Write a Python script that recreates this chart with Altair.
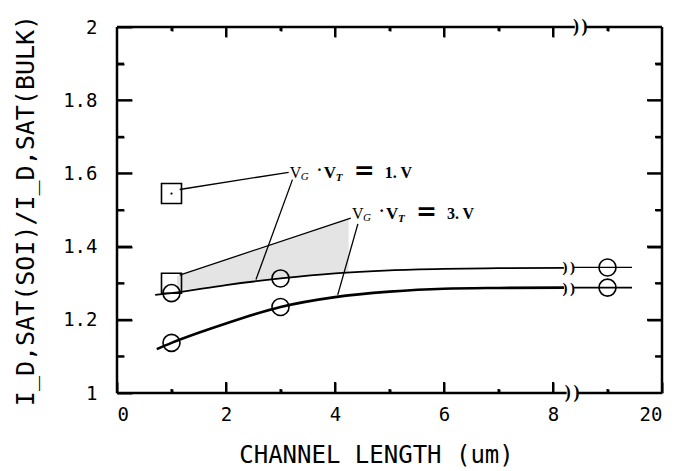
import altair as alt
import pandas as pd

# ---- data (plotted positions; x beyond the break is drawn at 9, the "20" tick sits at 10)
marker_x = [1, 3, 9]
ratio_1V = [1.273, 1.313, 1.343]
ratio_3V = [1.137, 1.235, 1.288]
square_x = [1, 1]
square_y = [1.545, 1.300]

curve1_x = [0.7, 1, 2, 3, 4, 5, 6, 7, 8.2]
curve1_y = [1.268, 1.273, 1.295, 1.313, 1.327, 1.335, 1.339, 1.341, 1.342]
curve3_x = [0.73, 1, 2, 3, 4, 5, 6, 7, 8.2]
curve3_y = [1.12, 1.137, 1.19, 1.235, 1.262, 1.277, 1.285, 1.287, 1.288]
tail_x = [8.38, 9.45]
tail1_y = [1.343, 1.343]
tail3_y = [1.288, 1.288]

x_major = [2, 4, 6, 8]
x_minor = [1, 3, 5, 7, 9]
x_labels = [0, 2, 4, 6, 8, 10]
y_major = [1.2, 1.4, 1.6, 1.8]
y_minor = [1.1, 1.3, 1.5, 1.7, 1.9]
y_labels = [1, 1.2, 1.4, 1.6, 1.8, 2]

label_anchor_x = [3.17, 4.31]
label_anchor_y = [1.587, 1.475]
label_values = ["1. V", "3. V"]

# leader lines
leader_x = [1.15, 3.22, 1.15, 4.42]
leader_x2 = [3.15, 2.55, 4.29, 4.05]
leader_y = [1.556, 1.583, 1.322, 1.462]
leader_y2 = [1.603, 1.31, 1.478, 1.268]

shade_x = [1.1, 4.25]
shade_top = [1.32, 1.478]
shade_bot = [1.281, 1.33]

W, H = 545, 366
X0, X1, Y0, Y1 = 0, 10, 1, 2
PX = W / (X1 - X0)   # pixels per x unit
PY = H / (Y1 - Y0)   # pixels per y unit
xs = alt.Scale(domain=[X0, X1], nice=False, zero=False)
ys = alt.Scale(domain=[Y0, Y1], nice=False, zero=False)
MONO = "DejaVu Sans Mono"
SERIF = "Liberation Serif"


def X(f):
    return alt.X(f, scale=xs, axis=None)


def Y(f):
    return alt.Y(f, scale=ys, axis=None)


# ---- axes: ticks drawn by the axes themselves, pulled inside the frame with a negative offset
def x_axis_layer(vals, orient, size, labels=False, **extra):
    ax = alt.Axis(orient=orient, values=vals, domain=False, grid=False, ticks=True,
                  tickSize=size, offset=-size, tickColor="black", tickWidth=2,
                  labels=labels, title="", **extra)
    return alt.Chart(pd.DataFrame({"v": vals})).mark_point(opacity=0).encode(
        x=alt.X("v:Q", scale=xs, axis=ax))


def y_axis_layer(vals, orient, size, labels=False, **extra):
    ax = alt.Axis(orient=orient, values=vals, domain=False, grid=False, ticks=True,
                  tickSize=size, offset=-size, tickColor="black", tickWidth=2,
                  labels=labels, title="", **extra)
    return alt.Chart(pd.DataFrame({"v": vals})).mark_point(opacity=0).encode(
        y=alt.Y("v:Q", scale=ys, axis=ax))


ax_bottom = alt.Chart(pd.DataFrame({"v": x_labels})).mark_point(opacity=0).encode(
    x=alt.X("v:Q", scale=xs, axis=alt.Axis(
        orient="bottom", values=x_labels, labelExpr="datum.value == 10 ? '20' : datum.label",
        domain=False, grid=False, ticks=True, tickSize=11, offset=-11,
        tickColor="black", tickWidth=2,
        labelFont=MONO, labelFontSize=19, labelColor="black", labelPadding=12,
        title="CHANNEL LENGTH (um)", titleFont=MONO, titleFontSize=24,
        titleFontWeight="normal", titleColor="black",
        titleX=259, titleY=73, titleAlign="center", titleBaseline="middle")))

ax_left = alt.Chart(pd.DataFrame({"v": y_labels})).mark_point(opacity=0).encode(
    y=alt.Y("v:Q", scale=ys, axis=alt.Axis(
        orient="left", values=y_labels, format=".1~f",
        domain=False, grid=False, ticks=True, tickSize=15, offset=-15,
        tickColor="black", tickWidth=2,
        labelFont=MONO, labelFontSize=19, labelColor="black", labelPadding=20,
        title="I_D,SAT(SOI)/I_D,SAT(BULK)", titleFont=MONO, titleFontSize=25,
        titleFontWeight="normal", titleColor="black", titleAngle=270,
        titleX=-107, titleY=183, titleAlign="center", titleBaseline="middle")))

axis_layers = [
    ax_bottom, ax_left,
    x_axis_layer(x_minor, "bottom", 4),
    x_axis_layer(x_major, "top", 10),
    x_axis_layer(x_minor, "top", 4),
    y_axis_layer(y_minor, "left", 7),
    y_axis_layer(y_major, "right", 15),
    y_axis_layer(y_minor, "right", 7),
]

# ---- frame with breaks
base = alt.Chart(pd.DataFrame({"x": [0]}))
frame_df = pd.DataFrame({
    "x": [0, 8.45, 0, 8.6],
    "x2": [8.25, 10, 8.4, 10],
    "pos": ["b", "b", "t", "t"],
})
frame_bottom = alt.Chart(frame_df[frame_df.pos == "b"]).mark_rule(strokeWidth=2.5, color="black").encode(
    x=X("x:Q"), x2="x2:Q", y=alt.value(H))
frame_top = alt.Chart(frame_df[frame_df.pos == "t"]).mark_rule(strokeWidth=2.5, color="black").encode(
    x=X("x:Q"), x2="x2:Q", y=alt.value(0))
frame_left = base.mark_rule(strokeWidth=2.5, color="black").encode(
    x=alt.value(0), y=alt.value(0), y2=alt.value(H))
frame_right = base.mark_rule(strokeWidth=2.5, color="black").encode(
    x=alt.value(W), y=alt.value(0), y2=alt.value(H))

brk_df = pd.DataFrame({"x": [8.27, 8.43], "t": [")", ")"]})
brk_bottom = alt.Chart(brk_df).mark_text(font=SERIF, fontSize=18, fontWeight="bold").encode(
    x=X("x:Q"), y=alt.value(H), text="t:N")
brk_top_df = pd.DataFrame({"x": [8.42, 8.58], "t": [")", ")"]})
brk_top = alt.Chart(brk_top_df).mark_text(font=SERIF, fontSize=18, fontWeight="bold").encode(
    x=X("x:Q"), y=alt.value(0), text="t:N")

# ---- backup inward ticks as two-point line paths (lengths in pixels -> data units)
tick_rows = []


def add_h(vals, at, length_px, tag):
    for i, v in enumerate(vals):
        k = f"{tag}{i}"
        tick_rows.append({"id": k, "x": at, "y": v})
        tick_rows.append({"id": k, "x": at + length_px / PX, "y": v})


def add_v(vals, at, length_px, tag):
    for i, v in enumerate(vals):
        k = f"{tag}{i}"
        tick_rows.append({"id": k, "x": v, "y": at})
        tick_rows.append({"id": k, "x": v, "y": at + length_px / PY})


add_h(y_major, X0, 15, "lM"); add_h(y_minor, X0, 7, "lm")
add_h(y_major, X1, -15, "rM"); add_h(y_minor, X1, -7, "rm")
add_v(x_major, Y0, 11, "bM"); add_v(x_minor, Y0, 4, "bm")
add_v(x_major, Y1, -10, "tM"); add_v(x_minor, Y1, -4, "tm")
tick_df = pd.DataFrame(tick_rows)
tick_lines = alt.Chart(tick_df).mark_line(color="black", strokeWidth=2).encode(
    x=X("x:Q"), y=Y("y:Q"), detail="id:N")

# ---- leader lines
leaders = alt.Chart(pd.DataFrame({"x": leader_x, "x2": leader_x2, "y": leader_y, "y2": leader_y2})).mark_rule(
    color="black", strokeWidth=1.3).encode(
    x=X("x:Q"), x2="x2:Q", y=Y("y:Q"), y2="y2:Q")

# ---- shading
shade = alt.Chart(pd.DataFrame({"x": shade_x, "top": shade_top, "bot": shade_bot})).mark_area(
    color="#e4e4e4", opacity=1).encode(
    x=X("x:Q"), y=Y("top:Q"), y2="bot:Q")

# ---- curves
c1 = alt.Chart(pd.DataFrame({"x": curve1_x, "y": curve1_y})).mark_line(
    color="black", strokeWidth=1.8, interpolate="monotone").encode(x=X("x:Q"), y=Y("y:Q"))
c3 = alt.Chart(pd.DataFrame({"x": curve3_x, "y": curve3_y})).mark_line(
    color="black", strokeWidth=2.6, interpolate="monotone").encode(x=X("x:Q"), y=Y("y:Q"))
t1 = alt.Chart(pd.DataFrame({"x": tail_x, "y": tail1_y})).mark_line(
    color="black", strokeWidth=1.2).encode(x=X("x:Q"), y=Y("y:Q"))
t3 = alt.Chart(pd.DataFrame({"x": tail_x, "y": tail3_y})).mark_line(
    color="black", strokeWidth=1.6).encode(x=X("x:Q"), y=Y("y:Q"))

cbrk_df = pd.DataFrame({
    "x": [8.22, 8.36, 8.22, 8.36],
    "y": [tail1_y[0], tail1_y[0], tail3_y[0], tail3_y[0]],
    "t": [")", ")", ")", ")"],
})
cbrk = alt.Chart(cbrk_df).mark_text(font=SERIF, fontSize=15, fontWeight="bold", baseline="middle").encode(
    x=X("x:Q"), y=Y("y:Q"), text="t:N")

# ---- markers
circ_df = pd.DataFrame({"x": marker_x * 2, "y": ratio_1V + ratio_3V})
circles = alt.Chart(circ_df).mark_point(
    shape="circle", size=290, filled=False, color="black", strokeWidth=1.6, opacity=1).encode(
    x=X("x:Q"), y=Y("y:Q"))
sq_df = pd.DataFrame({"x": square_x, "y": square_y})
squares = alt.Chart(sq_df).mark_point(
    shape="square", size=400, filled=False, color="black", strokeWidth=1.6, opacity=1).encode(
    x=X("x:Q"), y=Y("y:Q"))
dot = alt.Chart(sq_df.iloc[:1]).mark_point(
    shape="circle", size=5, filled=True, color="black", opacity=1).encode(
    x=X("x:Q"), y=Y("y:Q"))

# ---- labels "V_G - V_T = n. V"
lab_df = pd.DataFrame({"x": label_anchor_x, "y": label_anchor_y, "val": label_values})
pieces = [
    ("V", 0, 0, 16, "normal", "normal", SERIF),
    ("G", 11, 2, 11, "normal", "italic", SERIF),
    ("·", 27, -3, 16, "bold", "normal", SERIF),
    ("V", 34, 0, 17, "bold", "normal", SERIF),
    ("T", 46, 3, 11, "bold", "italic", SERIF),
    ("=", 64, 1, 25, "bold", "normal", "DejaVu Sans"),
]
label_layers = []
for txt, dx, dy, fs, fw, fst, fnt in pieces:
    label_layers.append(alt.Chart(lab_df).mark_text(
        text=txt, dx=dx, dy=dy, align="left", baseline="alphabetic",
        font=fnt, fontSize=fs, fontWeight=fw, fontStyle=fst, color="black").encode(
        x=X("x:Q"), y=Y("y:Q")))
label_layers.append(alt.Chart(lab_df).mark_text(
    dx=95, align="left", baseline="alphabetic",
    font=SERIF, fontSize=16, fontWeight="bold", color="black").encode(
    x=X("x:Q"), y=Y("y:Q"), text="val:N"))

chart = alt.layer(
    *axis_layers, shade, c1, c3, t1, t3, cbrk, leaders, circles, squares, dot,
    frame_bottom, frame_top, frame_left, frame_right, brk_bottom, brk_top,
    *label_layers, tick_lines,
).resolve_axis(
    x="independent", y="independent"
).properties(
    width=W, height=H, background="white",
    autosize=alt.AutoSizeParams(type="none"),
    padding={"left": 109, "top": 19, "right": 5, "bottom": 75},
).configure_view(stroke=None)

chart.save("out.html", embed_options={"renderer": "svg", "actions": False})
